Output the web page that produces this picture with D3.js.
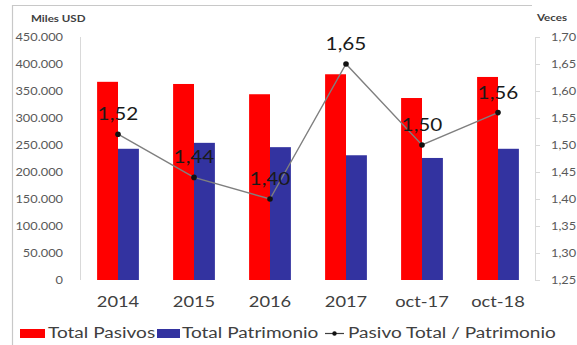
<!DOCTYPE html>
<html>
<head>
<meta charset="utf-8">
<script src="https://cdn.jsdelivr.net/npm/d3@7"></script>
<style>
  html, body { margin: 0; padding: 0; background: #fff; }
  svg { display: block; }
  text { font-family: Lato, "Open Sans", sans-serif; }
</style>
</head>
<body>
<svg id="chart" width="577" height="345"></svg>
<script>
// Balance figures (thousand USD) and leverage ratio
const categories = ["2014", "2015", "2016", "2017", "oct-17", "oct-18"];
const totalPasivos = [367000, 363000, 344000, 381000, 337000, 376000];
const totalPatrimonio = [243000, 254000, 246000, 231000, 226000, 243000];
const ratio = [1.52, 1.44, 1.40, 1.65, 1.50, 1.56];
const ratioLabels = ["1,52", "1,44", "1,40", "1,65", "1,50", "1,56"];
const leftTicks = [0, 50000, 100000, 150000, 200000, 250000, 300000, 350000, 400000, 450000];
const rightTicks = [1.25, 1.30, 1.35, 1.40, 1.45, 1.50, 1.55, 1.60, 1.65, 1.70];
const seriesNames = ["Total Pasivos", "Total Patrimonio", "Pasivo Total / Patrimonio"];

const RED = "#ff0000", BLUE = "#3333a0", LINE = "#7f7f7f";
const SX = 1.22; // horizontal stretch of all lettering

const svg = d3.select("#chart");
const plotL = 80, plotR = 535, plotT = 37, plotB = 280;

const x = d3.scaleBand().domain(categories).range([plotL, plotR + 1])
  .paddingInner(0.45).paddingOuter(0.225);
const xs = d3.scaleBand().domain([0, 1]).range([0, x.bandwidth()]);
const yL = d3.scaleLinear().domain([0, 450000]).range([plotB, plotT]);
const yR = d3.scaleLinear().domain([1.25, 1.70]).range([plotB, plotT]);

const fmtL = v => d3.format(",")(v).replace(/,/g, ".");
const fmtR = v => d3.format(".2f")(v).replace(".", ",");

// stretched text helper
function label(g, str, px, py, opts) {
  return g.append("text")
    .attr("transform", `translate(${px},${py}) scale(${opts.sx || SX},1)`)
    .attr("text-anchor", opts.anchor || "start")
    .attr("font-size", opts.size)
    .attr("font-weight", opts.weight || "normal")
    .attr("fill", opts.fill || "#404040")
    .text(str);
}

// outer frame
svg.append("line").attr("x1", 12.5).attr("x2", 12.5).attr("y1", 5).attr("y2", 345)
  .attr("stroke", "#c8c8c8").attr("stroke-width", 1.2);
svg.append("line").attr("x1", 12).attr("x2", 532).attr("y1", 5.5).attr("y2", 5.5)
  .attr("stroke", "#c8c8c8").attr("stroke-width", 1.2);

// left axis
const gL = svg.append("g");
gL.append("line").attr("x1", plotL + 0.5).attr("x2", plotL + 0.5).attr("y1", plotT).attr("y2", plotB)
  .attr("stroke", "#d9d9d9");
leftTicks.forEach(t => label(gL, fmtL(t), 63, yL(t) + 4, { anchor: "end", size: 10.5, fill: "#595959" }));
label(gL, "Miles USD", 31, 22, { size: 9.5, weight: "bold", fill: "#404040" });

// right axis
const gR = svg.append("g");
gR.append("line").attr("x1", plotR + 0.5).attr("x2", plotR + 0.5).attr("y1", plotT).attr("y2", plotB)
  .attr("stroke", "#d9d9d9");
rightTicks.forEach(t => {
  gR.append("line").attr("x1", plotR).attr("x2", plotR + 5)
    .attr("y1", Math.round(yR(t)) + 0.5).attr("y2", Math.round(yR(t)) + 0.5).attr("stroke", "#d9d9d9");
  label(gR, fmtR(t), 551, yR(t) + 4, { size: 10.5, fill: "#595959" });
});
label(gR, "Veces", 537, 21, { size: 9.5, weight: "bold", fill: "#404040" });

// bars
const gBars = svg.append("g");
[totalPasivos, totalPatrimonio].forEach((vals, i) => {
  gBars.selectAll(null).data(vals).join("rect")
    .attr("x", (d, j) => x(categories[j]) + xs(i))
    .attr("width", xs.bandwidth())
    .attr("y", d => yL(d))
    .attr("height", d => plotB - yL(d))
    .attr("fill", i === 0 ? RED : BLUE);
});

// category labels
categories.forEach(c => label(svg, c, x(c) + x.bandwidth() / 2, 307, { anchor: "middle", size: 15, fill: "#404040" }));

// ratio line
const pts = ratio.map((r, j) => [x(categories[j]) + x.bandwidth() / 2, yR(r)]);
svg.append("path").attr("d", d3.line()(pts)).attr("fill", "none")
  .attr("stroke", LINE).attr("stroke-width", 1.4);
svg.selectAll(".dot").data(pts).join("circle")
  .attr("cx", d => d[0]).attr("cy", d => d[1]).attr("r", 2.8).attr("fill", "#111");
pts.forEach((p, j) => label(svg, ratioLabels[j], p[0], p[1] - 14, { anchor: "middle", size: 17, fill: "#1a1a1a" }));

// legend
const lg = svg.append("g");
lg.append("rect").attr("x", 20).attr("y", 329).attr("width", 25).attr("height", 9).attr("fill", RED);
label(lg, seriesNames[0], 48, 338, { size: 15, sx: 1.27, fill: "#404040" });
lg.append("rect").attr("x", 157).attr("y", 329).attr("width", 23).attr("height", 9).attr("fill", BLUE);
label(lg, seriesNames[1], 182, 338, { size: 15, sx: 1.27, fill: "#404040" });
lg.append("line").attr("x1", 325).attr("x2", 344).attr("y1", 333.5).attr("y2", 333.5)
  .attr("stroke", "#404040").attr("stroke-width", 1.2);
lg.append("circle").attr("cx", 334.5).attr("cy", 333.5).attr("r", 2.2).attr("fill", "#111");
label(lg, seriesNames[2], 348, 338, { size: 15, sx: 1.27, fill: "#404040" });
</script>
</body>
</html>
